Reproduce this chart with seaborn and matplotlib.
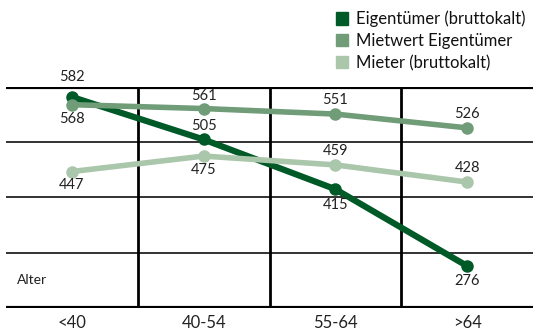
import pandas as pd
import seaborn as sns
import matplotlib.pyplot as plt

# data
alter = ["<40", "40-54", "55-64", ">64"]
eigentuemer = [582, 505, 415, 276]
mietwert = [568, 561, 551, 526]
mieter = [447, 475, 459, 428]

series = ["Eigentümer (bruttokalt)", "Mietwert Eigentümer", "Mieter (bruttokalt)"]
colors = ["#005a28", "#709c78", "#aac6ab"]
widths = [4.5, 4.0, 4.0]
# label offset in points per series/point (positive above, negative below)
label_off = [[9, 5, -6, -6], [-5, 4, 5, 5], [-5, -5, 5, 5]]

df = pd.DataFrame({
    "Alter": alter * 3,
    "Wert": eigentuemer + mietwert + mieter,
    "Serie": [s for s in series for _ in alter],
})

sns.set_style("white")
plt.rcParams["font.family"] = ["Lato", "DejaVu Sans"]

fig = plt.figure(figsize=(5.33, 3.34), dpi=100)
ax = fig.add_axes([6 / 533, 26 / 334, 527 / 533, 221 / 334])

# grid lines first, data on top
for y in [300, 400, 500]:
    ax.axhline(y, color="#222222", lw=1.3, zorder=1)
for y in [200, 600]:
    ax.axhline(y, color="black", lw=3, zorder=1)
for x in [0.5, 1.5, 2.5]:
    ax.axvline(x, color="black", lw=2, zorder=1)

for s, c, w in zip(series, colors, widths):
    sub = df[df["Serie"] == s]
    sns.lineplot(data=sub, x="Alter", y="Wert", color=c, lw=w, marker="o",
                 markersize=9, markeredgewidth=0, ax=ax, zorder=3, label=s)

vals = [eigentuemer, mietwert, mieter]
for i, v in enumerate(vals):
    for j, val in enumerate(v):
        off = label_off[i][j]
        ax.annotate(str(val), (j, val), xytext=(0, off), textcoords="offset points",
                    ha="center", va="bottom" if off > 0 else "top",
                    fontsize=10.5, color="#222222", zorder=4)

ax.set_xlim(-0.5, 3.5)
ax.set_ylim(200, 600)
ax.set_yticks([])
ax.set_xticks(range(len(alter)))
ax.set_xticklabels(alter, fontsize=12, color="#222222")
ax.tick_params(axis="x", length=0, pad=5)
ax.set_xlabel("")
ax.set_ylabel("")
for sp in ax.spines.values():
    sp.set_visible(False)

ax.text(0.02, 0.125, "Alter", transform=ax.transAxes, fontsize=10,
        color="#222222", va="center")

handles = [plt.Rectangle((0, 0), 1, 1, color=c) for c in colors]
fig.legend(handles, series, loc="upper left", bbox_to_anchor=(329 / 533, 1 - 4 / 334),
           frameon=False, fontsize=12, handlelength=0.75, handleheight=0.75,
           handletextpad=0.45, labelspacing=0.35, borderaxespad=0, labelcolor="#111111")
ax.get_legend().remove()

fig.savefig("out.png", dpi=100)
